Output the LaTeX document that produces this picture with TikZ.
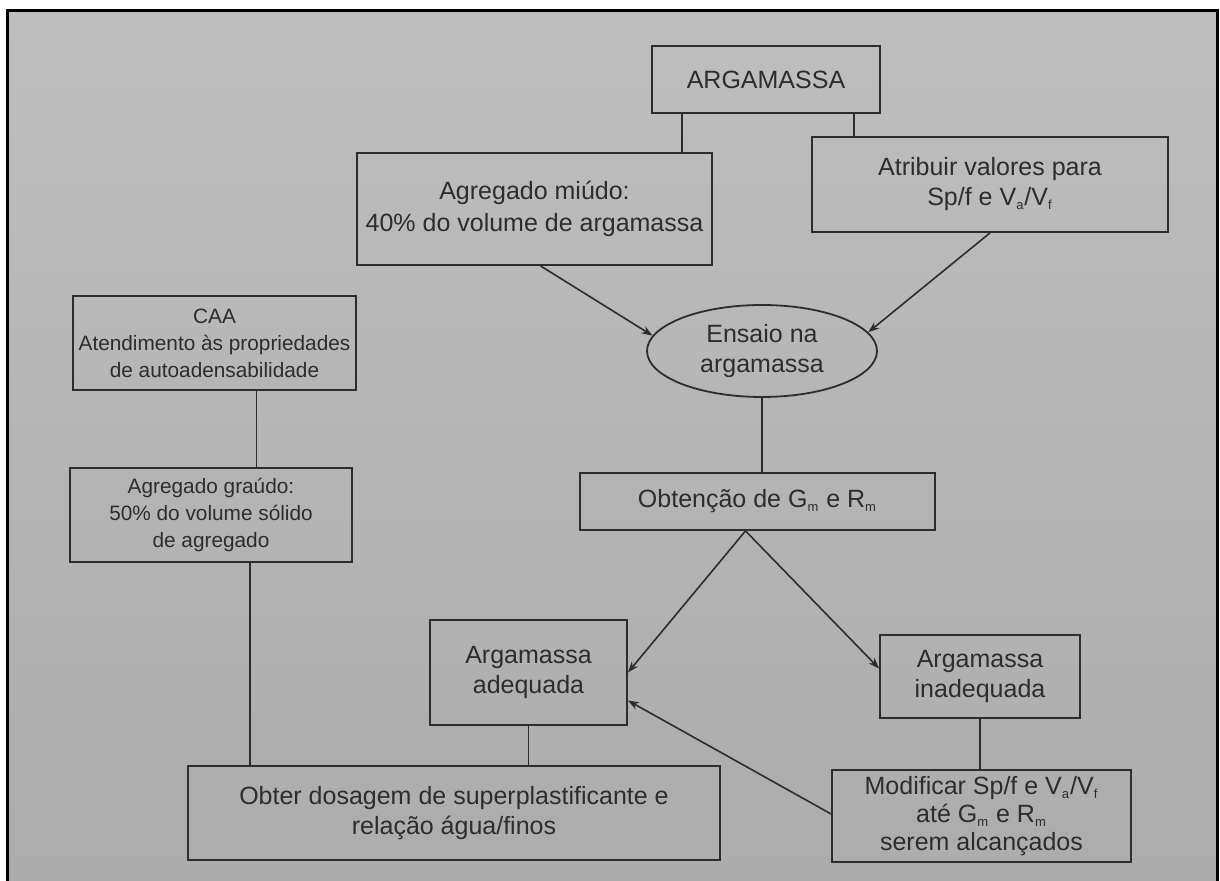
\documentclass[tikz,border=0pt]{standalone}
\usepackage{fontspec}
\setmainfont{Liberation Sans}
\usetikzlibrary{arrows.meta,shapes.geometric}
\definecolor{papel}{RGB}{190,190,190}
\definecolor{papelesc}{RGB}{172,172,172}
\definecolor{tinta}{RGB}{45,45,45}
\newcommand{\subscr}[1]{\textsubscript{\fontsize{6.5}{6.5}\selectfont #1}}

\begin{document}
\begin{tikzpicture}[x=0.5pt,y=-0.5pt,
  caixa/.style={draw=tinta, line width=0.9pt, text=tinta, align=center, inner sep=2pt,
    font=\fontsize{12.5}{15}\selectfont},
  menor/.style={font=\fontsize{10.4}{13.5}\selectfont},
  elipse/.style={caixa, ellipse},
  linha/.style={draw=tinta, line width=0.8pt},
  seta/.style={linha, -{Stealth[length=5.5pt,width=4pt]}}]
  \useasboundingbox (0,0) rectangle (1220,881);
  % fundo da pagina
  \shade[top color=papel, bottom color=papelesc] (7,11) rectangle (1217,881);
  \draw[line width=1.5pt] (7,881) -- (7,11) -- (1217,11) -- (1217,881);
  % caixas
  \node[caixa, minimum width=114pt, minimum height=33.5pt] (arg) at (766,79.5) {ARGAMASSA};
  \node[caixa, minimum width=177.5pt, minimum height=56pt, font=\fontsize{12.5}{16}\selectfont] (miudo) at (534.5,209)
    {Agregado miúdo:\\40\% do volume de argamassa};
  \node[caixa, minimum width=178pt, minimum height=47.5pt] (atrib) at (990,184.5)
    {Atribuir valores para\\Sp/f e V\subscr{a}/V\subscr{f}};
  \node[caixa, menor, minimum width=141.5pt, minimum height=47pt] (caa) at (214.5,343)
    {CAA\\Atendimento às propriedades\\de autoadensabilidade};
  \node[caixa, menor, minimum width=141pt, minimum height=47pt] (graudo) at (211,515)
    {Agregado graúdo:\\50\% do volume sólido\\de agregado};
  \node[elipse, minimum width=115pt, minimum height=46pt] (ensaio) at (762,351)
    {Ensaio na\\argamassa};
  \node[caixa, minimum width=177.5pt, minimum height=28.5pt] (obt) at (757.5,501.5)
    {Obtenção de G\subscr{m} e R\subscr{m}};
  \node[caixa, minimum width=98.5pt, minimum height=52.5pt] (adeq) at (528.5,672.5)
    {Argamassa\\adequada};
  \node[caixa, minimum width=100pt, minimum height=41.5pt] (inadeq) at (980,676.5)
    {Argamassa\\inadequada};
  \node[caixa, minimum width=149.5pt, minimum height=46pt, font=\fontsize{12.5}{14}\selectfont] (modif) at (981.5,816)
    {Modificar Sp/f e V\subscr{a}/V\subscr{f}\\até G\subscr{m} e R\subscr{m}\\serem alcançados};
  \node[caixa, minimum width=266pt, minimum height=47pt] (obter) at (454,813)
    {Obter dosagem de superplastificante e\\relação água/finos};
  % ligacoes
  \draw[linha] ([xshift=-42pt]arg.south) -- ([xshift=-42pt]arg.south |- miudo.north);
  \draw[linha] ([xshift=44pt]arg.south) -- ([xshift=44pt]arg.south |- atrib.north);
  \draw[seta] ([xshift=3pt]miudo.south) -- (ensaio.172);
  \draw[seta] (atrib.south) -- (ensaio.10);
  \draw[linha] (ensaio.south) -- (ensaio.south |- obt.north);
  \draw[seta] ([xshift=-6pt]obt.south) -- (adeq.east);
  \draw[seta] ([xshift=-6pt]obt.south) -- ([yshift=4pt]inadeq.west);
  \draw[linha] (inadeq.south) -- (inadeq.south |- modif.north);
  \draw[seta] ([yshift=1pt]modif.west) -- ([yshift=-14pt]adeq.east);
  \draw[linha] (adeq.south) -- (adeq.south |- obter.north);
  \draw[linha] ([xshift=21pt]caa.south) -- ([xshift=21pt]caa.south |- graudo.north);
  \draw[linha] ([xshift=19.5pt]graudo.south) -- ([xshift=19.5pt]graudo.south |- obter.north);
\end{tikzpicture}
\end{document}
